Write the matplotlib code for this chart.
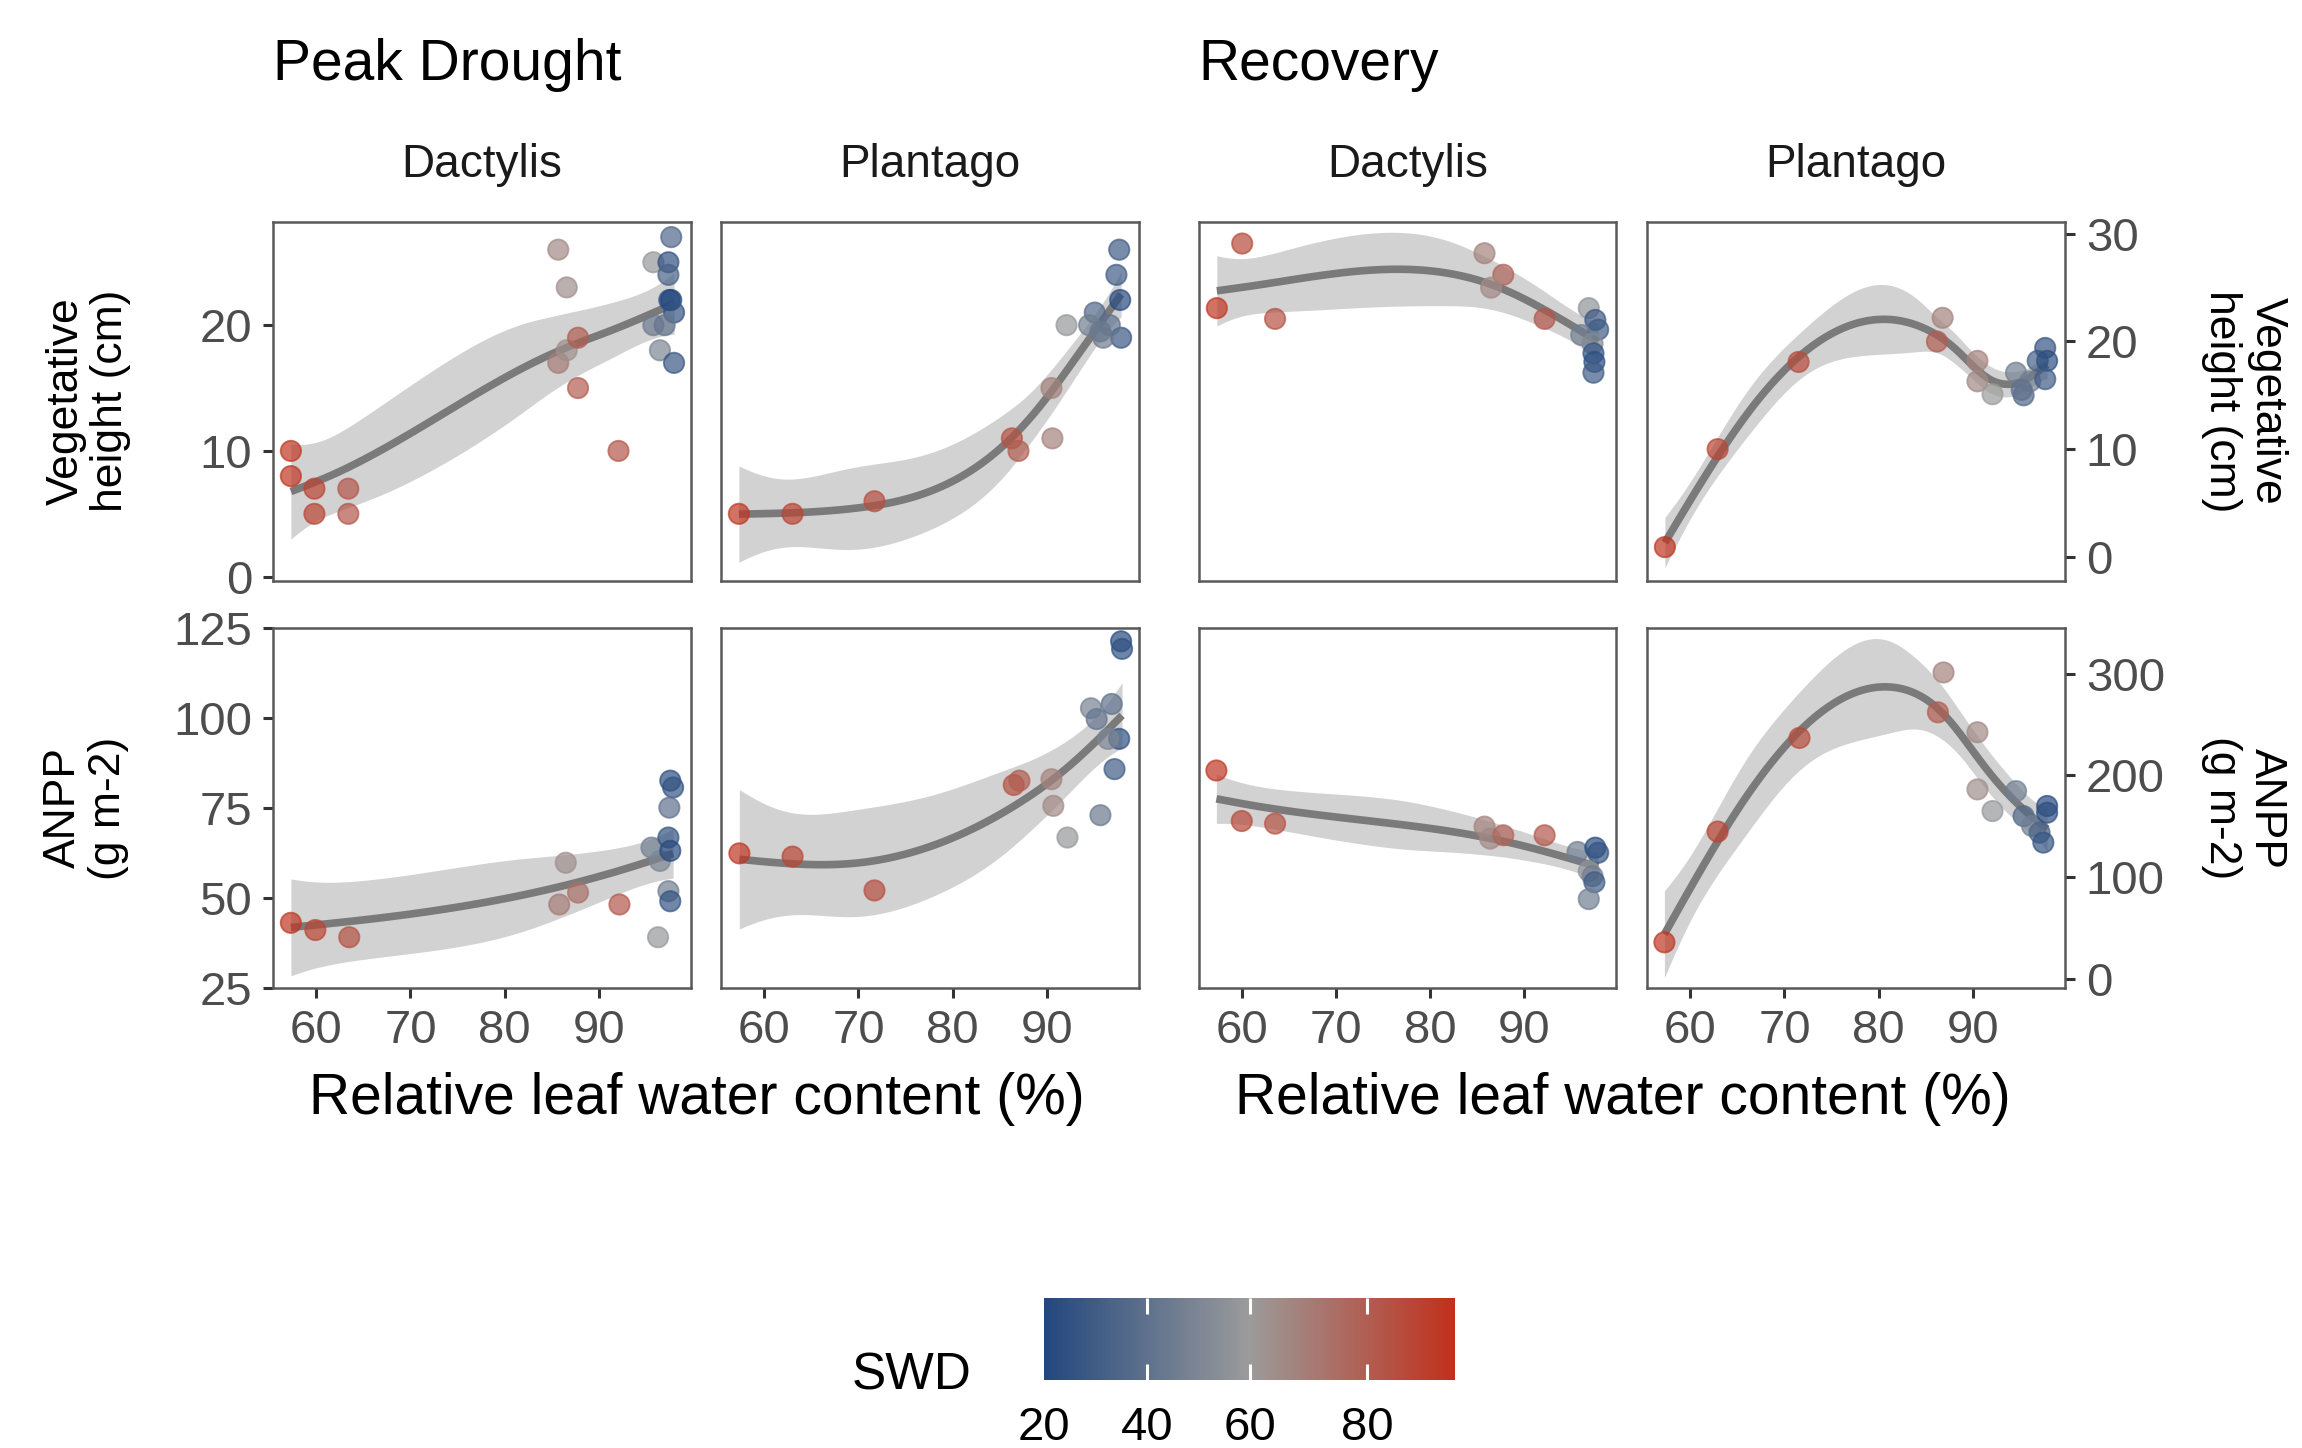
import numpy as np
import matplotlib.pyplot as plt
from matplotlib.colors import LinearSegmentedColormap, TwoSlopeNorm
from matplotlib.cm import ScalarMappable

plt.rcParams['font.family'] = ['Liberation Sans', 'DejaVu Sans']

W, H = 2302, 1448

# ---- data: relative leaf water content (%), response, SWD ----
# Peak drought, Dactylis, vegetative height
pd_dac_h_x = [57.3, 57.3, 59.8, 59.8, 63.4, 63.4, 85.7, 86.6, 85.7, 86.6, 87.8, 87.8,
              92.1, 95.8, 97.4, 97.7, 97.4, 97.5, 97.7, 98.0, 95.8, 97.0, 96.5, 98.0]
pd_dac_h_y = [10, 8, 7, 5, 7, 5, 26, 23, 17, 18, 19, 15,
              10, 25, 25, 27, 24, 22, 22, 21, 20, 20, 18, 17]
pd_dac_h_c = [93, 93, 88, 88, 82, 82, 66, 64, 70, 64, 80, 80,
              82, 58, 25, 35, 33, 22, 20, 26, 45, 42, 50, 28]

# Peak drought, Plantago, vegetative height
pd_pla_h_x = [57.3, 63.0, 71.7, 86.3, 87.0, 90.6, 90.5, 92.1, 97.7, 97.4, 97.8, 97.9,
              95.1, 94.5, 96.0, 96.7, 95.7]
pd_pla_h_y = [5, 5, 6, 11, 10, 11, 15, 20, 26, 24, 22, 19, 21, 20, 19, 20, 19.5]
pd_pla_h_c = [93, 88, 85, 84, 80, 68, 68, 58, 30, 30, 22, 28, 36, 46, 45, 40, 44]

# Recovery, Dactylis, vegetative height
rc_dac_h_x = [57.3, 60.0, 63.5, 85.8, 87.8, 86.5, 92.2, 96.9, 97.6, 97.9, 96.1, 97.3,
              97.4, 97.5, 97.4]
rc_dac_h_y = [23.1, 29.1, 22.1, 28.2, 26.2, 25.0, 22.1, 23.1, 22.0, 21.1, 20.6, 19.8,
              18.9, 18.1, 17.1]
rc_dac_h_c = [93, 86, 84, 68, 78, 66, 82, 56, 28, 30, 46, 52, 26, 24, 30]

# Recovery, Plantago, vegetative height
rc_pla_h_x = [57.3, 62.9, 71.5, 86.8, 86.2, 90.5, 90.5, 92.1, 94.6, 95.4, 96.1, 96.9,
              97.7, 97.9, 97.7, 95.2]
rc_pla_h_y = [0.9, 10, 18.1, 22.2, 20.0, 18.2, 16.3, 15.1, 17.1, 15.0, 16.3, 18.2,
              19.4, 18.2, 16.5, 15.5]
rc_pla_h_c = [93, 88, 86, 68, 80, 68, 66, 60, 46, 36, 46, 32, 26, 24, 30, 40]

# Peak drought, Dactylis, ANPP
pd_dac_a_x = [57.3, 59.9, 63.5, 86.5, 85.8, 87.8, 92.2, 95.6, 96.5, 96.3, 97.6, 97.9,
              97.5, 97.4, 97.6, 97.4, 97.6]
pd_dac_a_y = [43.1, 41.1, 39.1, 59.8, 48.2, 51.5, 48.2, 64, 60.3, 39.1, 82.6, 80.7,
              75.1, 66.8, 63.1, 51.9, 49.1]
pd_dac_a_c = [93, 88, 84, 64, 70, 74, 82, 46, 50, 58, 24, 26, 40, 26, 22, 46, 26]

# Peak drought, Plantago, ANPP
pd_pla_a_x = [57.35, 63.0, 71.7, 86.5, 87.1, 90.5, 90.7, 92.2, 94.7, 95.3, 96.9, 95.7,
              97.7, 96.5, 97.2, 97.9, 98.0]
pd_pla_a_y = [62.4, 61.5, 52.1, 81.4, 82.6, 83, 75.6, 66.8, 102.7, 99.7, 103.9, 73,
              94.2, 94.2, 85.8, 121.3, 119.2]
pd_pla_a_c = [93, 88, 85, 84, 80, 68, 66, 58, 48, 42, 40, 44, 25, 50, 30, 22, 25]

# Recovery, Dactylis, ANPP
rc_dac_a_x = [57.25, 59.95, 63.5, 85.8, 86.4, 87.8, 92.2, 95.7, 97.6, 97.9, 96.9, 97.3,
              97.5, 96.9]
rc_dac_a_y = [204.9, 155.2, 152.6, 149.7, 137.9, 141.2, 141.2, 124.8, 129, 124, 106, 101,
              95, 78.4]
rc_dac_a_c = [93, 86, 84, 68, 66, 78, 82, 46, 22, 26, 56, 46, 30, 46]

# Recovery, Plantago, ANPP
rc_pla_a_x = [57.25, 62.9, 71.6, 86.9, 86.3, 90.5, 90.5, 92.1, 94.6, 95.4, 96.3, 97.1,
              97.9, 97.9, 97.5]
rc_pla_a_y = [35.9, 144.8, 236.9, 301.3, 262.1, 242.5, 186.3, 165, 184.6, 160, 150.3, 143.8,
              170, 163.4, 134]
rc_pla_a_c = [93, 88, 86, 68, 80, 66, 64, 58, 46, 36, 46, 34, 22, 24, 26]

x_ticks = [60, 70, 80, 90]
swd_ticks = [20, 40, 60, 80]


def cr_basis(xk):
    # cubic regression spline (natural) parameterised by values at the knots
    k = len(xk)
    h = np.diff(xk)
    D = np.zeros((k - 2, k))
    B = np.zeros((k - 2, k - 2))
    for i in range(k - 2):
        D[i, i] = 1 / h[i]
        D[i, i + 1] = -1 / h[i] - 1 / h[i + 1]
        D[i, i + 2] = 1 / h[i + 1]
        B[i, i] = (h[i] + h[i + 1]) / 3
        if i < k - 3:
            B[i, i + 1] = B[i + 1, i] = h[i + 1] / 6
    F = np.vstack([np.zeros(k), np.linalg.solve(B, D), np.zeros(k)])
    S = D.T @ np.linalg.solve(B, D)

    def design(x):
        x = np.asarray(x, float)
        j = np.clip(np.searchsorted(xk, x, side='right') - 1, 0, k - 2)
        hj = h[j]
        am = (xk[j + 1] - x) / hj
        ap = (x - xk[j]) / hj
        cm = ((xk[j + 1] - x) ** 3 / hj - hj * (xk[j + 1] - x)) / 6
        cp = ((x - xk[j]) ** 3 / hj - hj * (x - xk[j])) / 6
        X = np.zeros((len(x), k))
        rows = np.arange(len(x))
        X[rows, j] += am
        X[rows, j + 1] += ap
        X += cm[:, None] * F[j] + cp[:, None] * F[j + 1]
        return X
    return design, S


def gam_smooth(x, y, xs, k=10):
    # y ~ s(x, bs = "cs"), method = "REML"; 95% band
    x = np.asarray(x, float)
    y = np.asarray(y, float)
    n = len(y)
    ux = np.unique(x)
    xk = np.interp(np.linspace(0, len(ux) - 1, k), np.arange(len(ux)), ux)
    design, S = cr_basis(xk)
    # shrinkage on the null space
    ev, U = np.linalg.eigh(S)
    big = ev > ev.max() * 1e-10
    ev = np.where(big, ev, ev[big].min() * 0.1)
    S = U @ np.diag(ev) @ U.T
    # sum-to-zero constraint, intercept kept apart
    Xf = design(x)
    C = Xf.sum(axis=0)[:, None]
    Q, _ = np.linalg.qr(C, mode='complete')
    Z = Q[:, 1:]
    Sc = Z.T @ S @ Z
    X = np.column_stack([np.ones(n), Xf @ Z])
    Sp = np.zeros((k, k))
    Sp[1:, 1:] = Sc
    logdetS = np.linalg.slogdet(Sc)[1]
    XtX = X.T @ X
    Xty = X.T @ y
    best = None
    for ll in np.linspace(-15, 15, 601):
        lam = np.exp(ll)
        A = XtX + lam * Sp
        beta = np.linalg.solve(A, Xty)
        r = y - X @ beta
        pen = r @ r + lam * beta @ Sp @ beta
        crit = ((n - 1) / 2) * np.log(pen) + 0.5 * np.linalg.slogdet(A)[1] \
            - 0.5 * ((k - 1) * ll + logdetS)
        if best is None or crit < best[0]:
            best = (crit, lam, beta, A)
    _, lam, beta, A = best
    Ai = np.linalg.inv(A)
    edf = np.trace(Ai @ XtX)
    r = y - X @ beta
    phi = (r @ r) / (n - edf)
    Xs = np.column_stack([np.ones(len(xs)), design(xs) @ Z])
    fit = Xs @ beta
    se = np.sqrt(phi * np.einsum('ij,jk,ik->i', Xs, Ai, Xs))
    return fit, fit - 1.96 * se, fit + 1.96 * se


cmap = LinearSegmentedColormap.from_list('swd', ['#22477e', '#9b9b9b', '#c1301b'])
norm = TwoSlopeNorm(vmin=20, vcenter=60, vmax=95)


def rect(x0, y0, x1, y1):
    return [x0 / W, 1 - y1 / H, (x1 - x0) / W, (y1 - y0) / H]


fig = plt.figure(figsize=(W / 100, H / 100), dpi=100)

cols = [(273, 691), (721, 1139), (1199, 1616), (1647, 2065)]
rows = [(222, 581), (628, 988)]

panels = [
    (0, 0, pd_dac_h_x, pd_dac_h_y, pd_dac_h_c),
    (0, 1, pd_pla_h_x, pd_pla_h_y, pd_pla_h_c),
    (0, 2, rc_dac_h_x, rc_dac_h_y, rc_dac_h_c),
    (0, 3, rc_pla_h_x, rc_pla_h_y, rc_pla_h_c),
    (1, 0, pd_dac_a_x, pd_dac_a_y, pd_dac_a_c),
    (1, 1, pd_pla_a_x, pd_pla_a_y, pd_pla_a_c),
    (1, 2, rc_dac_a_x, rc_dac_a_y, rc_dac_a_c),
    (1, 3, rc_pla_a_x, rc_pla_a_y, rc_pla_a_c),
]

ylims = {(0, 'L'): (-0.34, 28.2), (0, 'R'): (-2.25, 31.1),
         (1, 'L'): (25, 125), (1, 'R'): (-9, 345)}
yticks = {(0, 'L'): [0, 10, 20], (0, 'R'): [0, 10, 20, 30],
          (1, 'L'): [25, 50, 75, 100, 125], (1, 'R'): [0, 100, 200, 300]}

tick_col = '#4d4d4d'
for r, c, xs, ys, cs in panels:
    x0, x1 = cols[c]
    y0, y1 = rows[r]
    ax = fig.add_axes(rect(x0, y0, x1, y1))
    side = 'L' if c < 2 else 'R'
    grid = np.linspace(min(xs), max(xs), 80)
    fit, lo, hi = gam_smooth(xs, ys, grid)
    ax.fill_between(grid, lo, hi, color='#d2d2d2', lw=0, zorder=1)
    ax.plot(grid, fit, color='#7a7a7a', lw=5.5, zorder=2, solid_capstyle='butt')
    ax.scatter(xs, ys, c=cs, cmap=cmap, norm=norm, s=215, alpha=0.7,
               linewidths=1.3, edgecolors=cmap(norm(np.array(cs))), zorder=3)
    ax.set_xlim(55.4, 99.8)
    ax.set_ylim(*ylims[(r, side)])
    ax.set_xticks(x_ticks)
    ax.set_yticks(yticks[(r, side)])
    for sp in ax.spines.values():
        sp.set_color('#595959')
        sp.set_linewidth(1.8)
    ax.tick_params(length=7, width=2.2, color='#333333', labelcolor=tick_col,
                   labelsize=34, pad=8)
    if r == 0:
        ax.tick_params(axis='x', bottom=False, labelbottom=False)
    if c == 3:
        ax.yaxis.tick_right()
    elif c != 0:
        ax.tick_params(axis='y', left=False, labelleft=False)

# strip labels and group titles
strip = ['Dactylis', 'Plantago', 'Dactylis', 'Plantago']
for (x0, x1), s in zip(cols, strip):
    fig.text((x0 + x1) / 2 / W, 1 - 177 / H, s, ha='center', va='baseline',
             fontsize=33, color='#1a1a1a')
fig.text(273 / W, 1 - 80 / H, 'Peak Drought', ha='left', va='baseline', fontsize=41)
fig.text(1198 / W, 1 - 80 / H, 'Recovery', ha='left', va='baseline', fontsize=41)

# axis titles
for gx in [(273 + 1139) / 2, (1199 + 2065) / 2]:
    fig.text(gx / W - 0.004, 1 - 1099 / H, 'Relative leaf water content (%)', ha='center',
             va='center', fontsize=41)
fig.text(88 / W, 1 - 401 / H, 'Vegetative\nheight (cm)', ha='center', va='center',
         rotation=90, fontsize=32, linespacing=1.1)
fig.text(86 / W, 1 - 808 / H, 'ANPP\n(g m-2)', ha='center', va='center',
         rotation=90, fontsize=32, linespacing=1.1)
fig.text(2244 / W, 1 - 401 / H, 'Vegetative\nheight (cm)', ha='center', va='center',
         rotation=270, fontsize=32, linespacing=1.15)
fig.text(2244 / W, 1 - 808 / H, 'ANPP\n(g m-2)', ha='center', va='center',
         rotation=270, fontsize=32, linespacing=1.15)

# colour bar legend
cax = fig.add_axes(rect(1044, 1298, 1455, 1380))
cb = fig.colorbar(ScalarMappable(norm=norm, cmap=cmap), cax=cax, orientation='horizontal')
cb.outline.set_visible(False)
cb.set_ticks(swd_ticks)
cax.tick_params(length=0, labelsize=34, pad=19, labelcolor='black')
cax.vlines([40, 60, 80], 0, 0.2, colors='white', lw=2.2, transform=cax.get_xaxis_transform())
cax.vlines([40, 60, 80], 0.8, 1.0, colors='white', lw=2.2, transform=cax.get_xaxis_transform())
fig.text(972 / W, 1 - 1376 / H, 'SWD', ha='right', va='center', fontsize=37)

fig.savefig('out.png', dpi=100, facecolor='white')
